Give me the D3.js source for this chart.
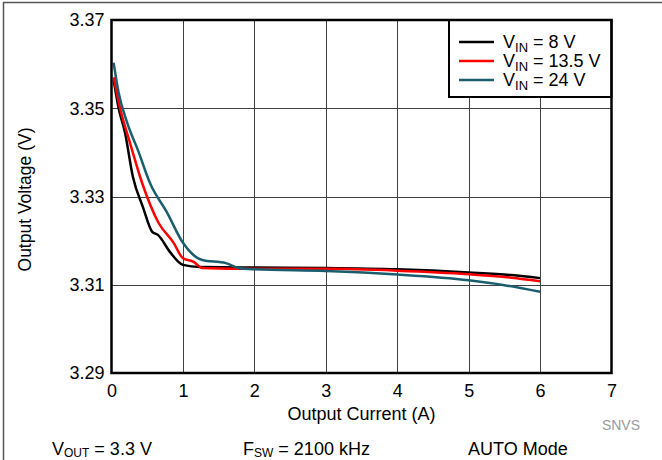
<!DOCTYPE html>
<html><head><meta charset="utf-8">
<script src="https://cdn.jsdelivr.net/npm/d3@7"></script>
<style>body{margin:0;background:#fff}svg{display:block;font-family:"Liberation Sans",Arial,sans-serif}</style>
</head><body>
<svg id="c" width="662" height="460"></svg>
<script>
const xTicks = [0,1,2,3,4,5,6,7];
const yTicks = [3.29,3.31,3.33,3.35,3.37];
const seriesNames = ["8 V","13.5 V","24 V"];
const seriesColors = ["#000000","#ff0000","#1a5e6e"];
const vin8 = [[0.03,3.3564],[0.1,3.350],[0.19,3.3444],[0.3,3.3344],[0.44,3.3276],[0.57,3.322],[0.65,3.3213],[0.82,3.3174],[1.0,3.3145],[1.24,3.314],[2,3.3139],[3,3.3138],[4,3.3135],[5,3.3128],[5.6,3.3122],[6,3.3115]];
const vin13 = [[0.03,3.357],[0.12,3.350],[0.26,3.3421],[0.43,3.333],[0.66,3.324],[0.87,3.3195],[1.0,3.316],[1.15,3.3152],[1.27,3.3138],[2,3.3136],[3,3.3136],[4,3.3132],[5,3.3124],[5.6,3.3116],[6,3.3108]];
const vin24 = [[0.03,3.3603],[0.1,3.3535],[0.22,3.3467],[0.37,3.3405],[0.54,3.333],[0.78,3.3263],[1.0,3.3195],[1.27,3.3156],[1.6,3.3149],[1.78,3.3138],[2,3.3135],[3,3.3131],[4,3.3123],[5,3.311],[5.5,3.3099],[6,3.3084]];
const series = [vin8, vin13, vin24];

const svg = d3.select("#c");
const L=111.5, R=611.5, T=20, B=373;
const x = d3.scaleLinear().domain([0,7]).range([L,R]);
const y = d3.scaleLinear().domain([3.29,3.37]).range([B,T]);

// outer frame (left + top)
svg.append("line").attr("x1",3.5).attr("x2",3.5).attr("y1",2).attr("y2",460).attr("stroke","#555").attr("stroke-width",1.5);
svg.append("line").attr("x1",3).attr("x2",662).attr("y1",2.5).attr("y2",2.5).attr("stroke","#555").attr("stroke-width",1.5);

// grid
const g = svg.append("g");
g.selectAll("line.vx").data(xTicks.slice(1,-1)).join("line")
 .attr("x1",d=>Math.round(x(d))+0.5).attr("x2",d=>Math.round(x(d))+0.5).attr("y1",T).attr("y2",B)
 .attr("stroke","#404040").attr("stroke-width",1);
g.selectAll("line.hy").data(yTicks.slice(1,-1)).join("line")
 .attr("y1",d=>Math.round(y(d))+0.5).attr("y2",d=>Math.round(y(d))+0.5).attr("x1",L).attr("x2",R)
 .attr("stroke","#404040").attr("stroke-width",1);

// axes labels via d3 axes
const xa = svg.append("g").attr("transform",`translate(0,${B})`)
 .call(d3.axisBottom(x).tickValues(xTicks).tickSize(0).tickPadding(11).tickFormat(d3.format("d")));
xa.select(".domain").remove();
xa.selectAll("text").attr("font-size",18).attr("fill","#000").attr("font-family","Liberation Sans, Arial");
const ya = svg.append("g").attr("transform",`translate(${L},0)`)
 .call(d3.axisLeft(y).tickValues(yTicks).tickSize(0).tickPadding(7).tickFormat(d3.format(".2f")));
ya.select(".domain").remove();
ya.selectAll("text").attr("font-size",18).attr("fill","#000").attr("font-family","Liberation Sans, Arial");

// curves
const line = d3.line().x(d=>x(d[0])).y(d=>y(d[1])).curve(d3.curveMonotoneX);
series.forEach((s,i)=>{
  svg.append("path").datum(s).attr("d",line).attr("fill","none")
   .attr("stroke",seriesColors[i]).attr("stroke-width",2.5).attr("stroke-linejoin","round");
});

// legend
const lg = svg.append("g");
lg.append("rect").attr("x",449).attr("y",T).attr("width",R-449).attr("height",77)
 .attr("fill","#fff").attr("stroke","#000").attr("stroke-width",2);
seriesNames.forEach((n,i)=>{
  const yy = 42 + i*19;
  lg.append("line").attr("x1",459).attr("x2",494).attr("y1",yy).attr("y2",yy)
   .attr("stroke",seriesColors[i]).attr("stroke-width",2.5);
  const t = lg.append("text").attr("x",503).attr("y",yy+6).attr("font-size",18).attr("fill","#000");
  t.append("tspan").text("V");
  t.append("tspan").attr("font-size",13).attr("dy",4).text("IN");
  t.append("tspan").attr("dy",-4).text(" = "+n);
});

// plot frame
svg.append("rect").attr("x",L).attr("y",T).attr("width",R-L).attr("height",B-T)
 .attr("fill","none").attr("stroke","#000").attr("stroke-width",2.5);

// axis titles
svg.append("text").attr("x",(L+R)/2).attr("y",420).attr("text-anchor","middle").attr("font-size",18).text("Output Current (A)");
svg.append("text").attr("transform",`translate(31,${(T+B)/2+3}) rotate(-90)`).attr("text-anchor","middle").attr("font-size",17.5).text("Output Voltage (V)");

svg.append("text").attr("x",640).attr("y",430).attr("text-anchor","end").attr("font-size",14).attr("fill","#999").text("SNVS");

// footer
function sub(xp,main,s,rest){
  const t = svg.append("text").attr("x",xp).attr("y",455).attr("font-size",18).attr("fill","#000");
  t.append("tspan").text(main);
  if(s){ t.append("tspan").attr("font-size",12).attr("dy",2).text(s); t.append("tspan").attr("dy",-2).text(rest);}
}
sub(52,"V","OUT"," = 3.3 V");
sub(243,"F","SW"," = 2100 kHz");
sub(468,"AUTO Mode",null,null);
</script>
</body></html>
